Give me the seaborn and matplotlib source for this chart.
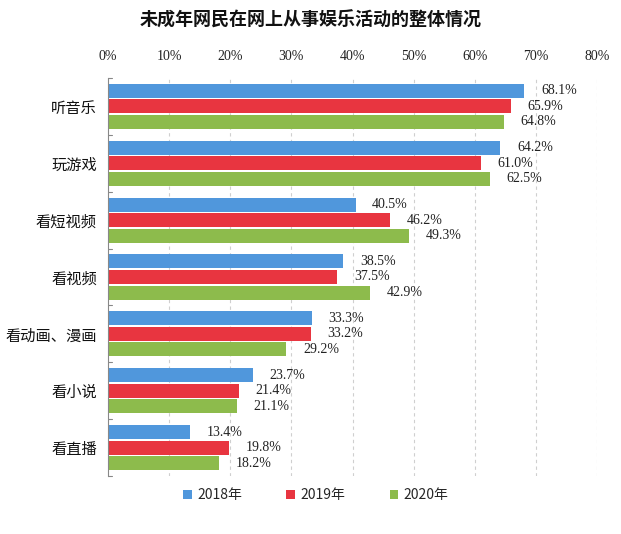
import matplotlib
matplotlib.use("Agg")
import matplotlib.pyplot as plt
import seaborn as sns
import pandas as pd
import numpy as np

categories = ["听音乐", "玩游戏", "看短视频", "看视频", "看动画、漫画", "看小说", "看直播"]
years = ["2018年", "2019年", "2020年"]
v2018 = [68.1, 64.2, 40.5, 38.5, 33.3, 23.7, 13.4]
v2019 = [65.9, 61.0, 46.2, 37.5, 33.2, 21.4, 19.8]
v2020 = [64.8, 62.5, 49.3, 42.9, 29.2, 21.1, 18.2]
xticks = [0, 10, 20, 30, 40, 50, 60, 70, 80]
colors = ["#5097DC", "#E83540", "#8DBB4C"]

rows = []
for y, vals in zip(years, [v2018, v2019, v2020]):
    for c, v in zip(categories, vals):
        rows.append({"cat": c, "year": y, "val": v})
df = pd.DataFrame(rows)

sns.set_theme(style="white")
plt.rcParams['font.family'] = ['Noto Sans CJK SC', 'DejaVu Sans']

fig = plt.figure(figsize=(6.21, 5.34), dpi=100)
ax = fig.add_axes([108/621, 1-476/534, 489/621, 398/534])

sns.barplot(data=df, y="cat", x="val", hue="year", order=categories, hue_order=years,
            palette=colors, orient="h", ax=ax, width=0.82, gap=0.1, legend=True,
            edgecolor="none", saturation=1)

ax.set_xlim(0, 80)
ax.set_ylim(len(categories) - 0.5, -0.5)
ax.xaxis.tick_top()
ax.set_xticks(xticks)
ax.set_xticklabels([f"{t}%" for t in xticks], fontfamily="Liberation Serif", fontsize=10, color="#222222")
ax.tick_params(axis="x", length=0, pad=11)
ax.tick_params(axis="y", length=0, pad=8, labelsize=11)
for lbl in ax.get_yticklabels():
    lbl.set_color("#111111")
ax.set_xlabel("")
ax.set_ylabel("")
for t in xticks[1:]:
    ax.axvline(t, color="#CFCFCF", lw=0.8, ls=(0, (3, 3)), zorder=0)
for s in ["top", "right", "bottom"]:
    ax.spines[s].set_visible(False)
ax.spines["left"].set_color("#888888")
ax.spines["left"].set_linewidth(0.8)
# small category separators on left axis
for i in range(len(categories) + 1):
    ax.plot([0, 0.6], [i - 0.5, i - 0.5], color="#888888", lw=0.8, clip_on=False)

for cont in ax.containers:
    labels = [f"{v:.1f}%" for v in cont.datavalues]
    ax.bar_label(cont, labels=labels, padding=12, fontsize=10,
                 fontfamily="Liberation Serif", color="#222222")

leg = ax.legend(loc="upper center", bbox_to_anchor=(0.425, 0.0), ncol=3, frameon=False,
                fontsize=10, handlelength=0.6, handleheight=0.6, columnspacing=3.2,
                handletextpad=0.4)

fig.text(0.5, 1-20/534, "未成年网民在网上从事娱乐活动的整体情况", ha="center", va="center",
         fontsize=13, fontweight="bold", color="#111111")

fig.savefig("out.png", dpi=100, facecolor="white")
